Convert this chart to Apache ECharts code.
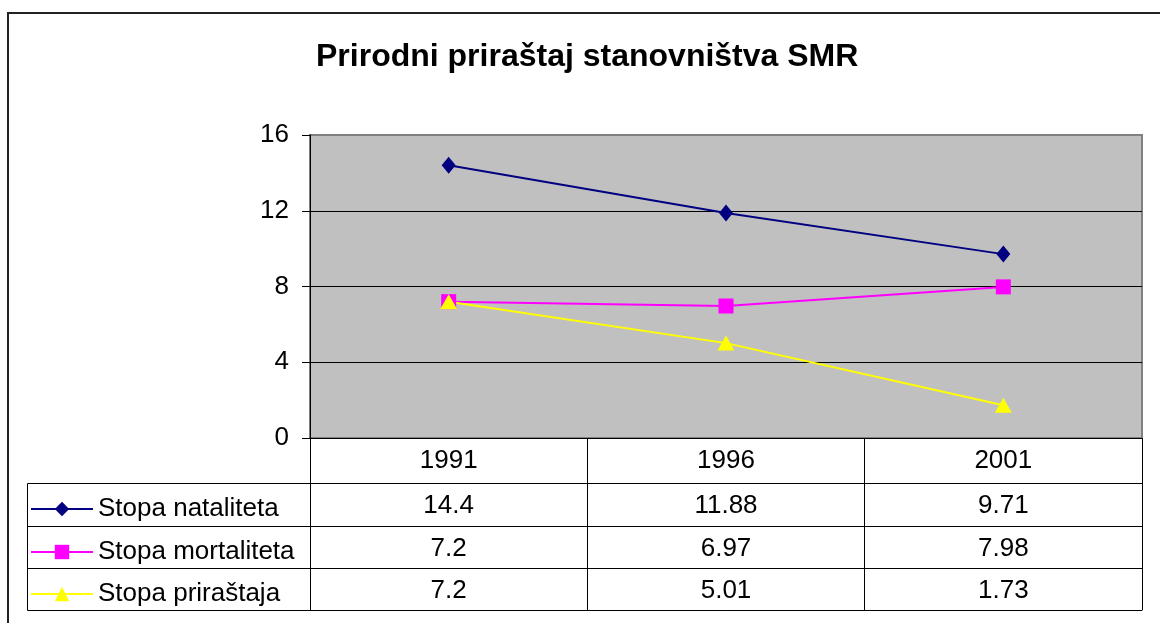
<!DOCTYPE html>
<html>
<head>
<meta charset="utf-8">
<title>Prirodni priraštaj stanovništva SMR</title>
<script src="https://cdn.jsdelivr.net/npm/echarts@6/dist/echarts.min.js"></script>
<style>
    html, body { margin: 0; padding: 0; background: #fff; }
    #chart { width: 1160px; height: 623px; }
</style>
</head>
<body>
<div id="chart"></div>
<script>
/* ===========================
   Data
=========================== */

const years = ["1991", "1996", "2001"];
const natalitet = [14.4, 11.88, 9.71];
const mortalitet = [7.2, 6.97, 7.98];
const prirastaj = [7.2, 5.01, 1.73];
const seriesNames = ["Stopa nataliteta", "Stopa mortaliteta", "Stopa priraštaja"];
const yTicks = [0, 4, 8, 12, 16];

const FONT = "Liberation Sans, Arial, sans-serif";

/* ===========================
   Table rows as extra axes
=========================== */

function tableAxis(data, offset, tickLen) {
    return {
        type: "category",
        position: "bottom",
        offset: offset,
        boundaryGap: true,
        data: data,
        axisLine: { show: true, lineStyle: { color: "#000", width: 1 } },
        axisTick: { show: tickLen > 0, alignWithLabel: false, length: tickLen, inside: false, interval: 0,
            lineStyle: { color: "#000", width: 1 } },
        axisLabel: { show: true, interval: 0, margin: 10, color: "#000", fontSize: 26, fontFamily: FONT },
        splitLine: { show: false }
    };
}

function legendRow(name, centerY) {
    return {
        data: [name],
        left: 30,
        top: centerY - 9,
        padding: 0,
        itemWidth: 62,
        itemHeight: 18,
        itemGap: 5,
        selectedMode: false,
        textStyle: { color: "#000", fontSize: 26, fontFamily: FONT }
    };
}

const chart = echarts.init(document.getElementById("chart"), null, { renderer: "canvas" });

chart.setOption({
    animation: false,
    backgroundColor: "#fff",
    title: {
        text: "Prirodni priraštaj stanovništva SMR",
        left: 316,
        top: 41,
        padding: 0,
        textStyle: { color: "#000", fontSize: 32, fontWeight: "bold", fontFamily: FONT }
    },
    legend: [
        legendRow(seriesNames[0], 505),
        legendRow(seriesNames[1], 548),
        legendRow(seriesNames[2], 590)
    ],
    grid: {
        left: 310,
        right: 18,
        top: 135,
        bottom: 185,
        outerBoundsMode: "none",
        show: true,
        backgroundColor: "#c0c0c0",
        borderColor: "#808080",
        borderWidth: 2
    },
    xAxis: [
        tableAxis(years, 0, 45),
        tableAxis(natalitet.map(String), 45, 43),
        tableAxis(mortalitet.map(String), 88, 42),
        tableAxis(prirastaj.map(String), 130, 42),
        Object.assign(tableAxis(["", "", ""], 172, 0), { axisLabel: { show: false } })
    ],
    yAxis: {
        type: "value",
        min: yTicks[0],
        max: yTicks[yTicks.length - 1],
        interval: 4,
        axisLine: { show: true, lineStyle: { color: "#000", width: 1 } },
        axisTick: { show: true, length: 8, lineStyle: { color: "#000" } },
        axisLabel: { color: "#000", fontSize: 26, fontFamily: FONT, margin: 21 },
        splitLine: { show: true, showMinLine: false, showMaxLine: false, lineStyle: { color: "#000", width: 1 } }
    },
    graphic: [
        {
            type: "rect",
            shape: { x: 8, y: 13, width: 1200, height: 700 },
            style: { fill: "transparent", stroke: "#222", lineWidth: 2 },
            silent: true
        },
        {
            type: "polyline",
            shape: { points: [[310, 483.5], [27.5, 483.5], [27.5, 610.5], [310, 610.5]] },
            style: { fill: "none", stroke: "#000", lineWidth: 1 },
            silent: true
        },
        {
            type: "line",
            shape: { x1: 27.5, y1: 526.5, x2: 310, y2: 526.5 },
            style: { stroke: "#000", lineWidth: 1 },
            silent: true
        },
        {
            type: "line",
            shape: { x1: 27.5, y1: 568.5, x2: 310, y2: 568.5 },
            style: { stroke: "#000", lineWidth: 1 },
            silent: true
        }
    ],
    series: [
        {
            name: seriesNames[0],
            type: "line",
            data: natalitet,
            symbol: "diamond",
            symbolSize: [14, 17],
            color: "#000080",
            lineStyle: { width: 2, color: "#000080" },
            itemStyle: { color: "#000080" }
        },
        {
            name: seriesNames[1],
            type: "line",
            data: mortalitet,
            symbol: "rect",
            symbolSize: 15,
            color: "#ff00ff",
            lineStyle: { width: 2, color: "#ff00ff" },
            itemStyle: { color: "#ff00ff" }
        },
        {
            name: seriesNames[2],
            type: "line",
            data: prirastaj,
            symbol: "triangle",
            symbolSize: [17, 15],
            color: "#ffff00",
            lineStyle: { width: 2, color: "#ffff00" },
            itemStyle: { color: "#ffff00" }
        }
    ]
});
</script>
</body>
</html>
